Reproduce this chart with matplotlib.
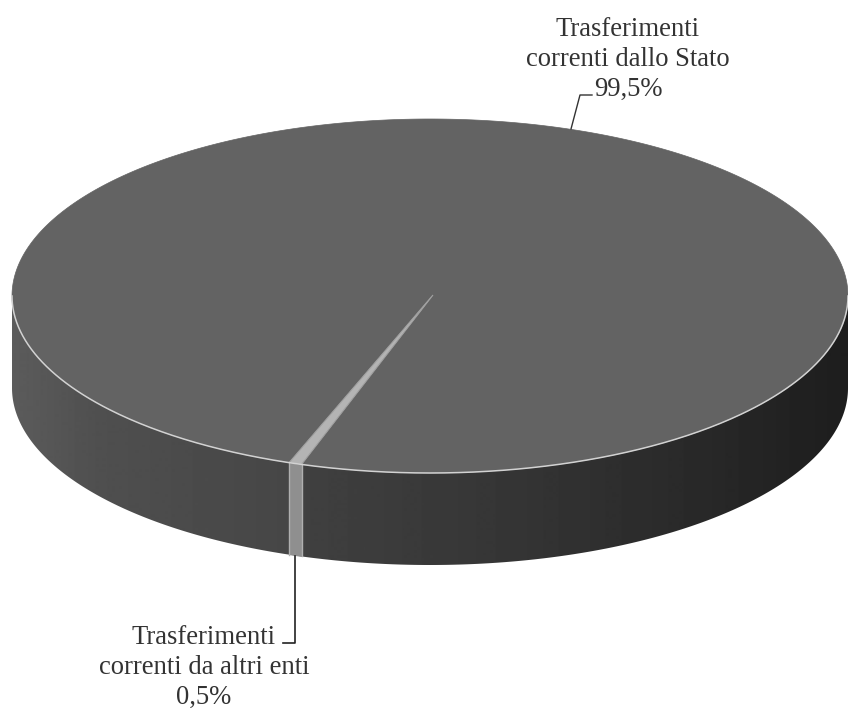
import numpy as np
import matplotlib
matplotlib.use('Agg')
import matplotlib.pyplot as plt
from matplotlib.patches import Polygon

labels = ['Trasferimenti\ncorrenti dallo Stato\n99,5%', 'Trasferimenti\ncorrenti da altri enti\n0,5%']
shares = [99.5, 0.5]

# pie geometry in image pixels
cx, cy = 430, 296
rx, ry = 418, 177
depth = 92
tip = (433, 295)
mid_small = 108.8  # angle of the small slice, clockwise on screen from the right

# side shading, left to right
shade_x = [12, 100, 290, 310, 500, 700, 848]
shade_g = [0.36, 0.31, 0.275, 0.25, 0.21, 0.16, 0.115]

fig = plt.figure(figsize=(8.48, 7.09), dpi=100)
ax = fig.add_axes([0, 0, 1, 1])


def rim(t):
    t = np.radians(t)
    return cx + rx * np.cos(t), cy + ry * np.sin(t)


half = shares[1] / 100 * 360 / 2
t1, t2 = mid_small - half, mid_small + half

# top face
t = np.linspace(t2, t1 + 360, 720)
x, y = rim(t)
ax.add_patch(Polygon(np.column_stack([np.r_[tip[0], x], np.r_[tip[1], y]]),
                     fc='#636363', ec='#636363', lw=0.5, zorder=2))
t = np.linspace(t1, t2, 10)
x, y = rim(t)
ax.add_patch(Polygon(np.column_stack([np.r_[tip[0], x], np.r_[tip[1], y]]),
                     fc='#b4b4b4', ec='#a0a0a0', lw=0.8, zorder=3))

# side wall, a horizontal gradient clipped to the wall outline
xs = np.arange(0, 849)
grad = np.interp(xs, shade_x, shade_g)[np.newaxis, :]
img = ax.imshow(grad, cmap='gray', vmin=0, vmax=1, extent=(0, 848, 0, 709),
                aspect='auto', zorder=1)
x, y = rim(np.linspace(0, 180, 361))
wall = Polygon(np.column_stack([np.r_[x, x[::-1]], np.r_[y, y[::-1] + depth]]),
               fc='none', ec='none', transform=ax.transData)
ax.add_patch(wall)
img.set_clip_path(wall)

# side of the small slice
x, y = rim(np.linspace(t1, t2, 10))
ax.fill_between(x, y, y + depth, color='#8f8f8f', lw=0, zorder=3)
for xe, ye in [rim(t1), rim(t2)]:
    ax.plot([xe, xe], [ye, ye + depth], color='#b0b0b0', lw=1, zorder=4)

# light edge on the front rim
x, y = rim(np.linspace(0, 180, 361))
ax.plot(x, y, color='#d2d2d2', lw=1.1, zorder=4)

# leader lines
ax.plot([571, 580, 592], [129, 95, 95], color='#333333', lw=1, zorder=5)
ax.plot([295, 295, 283], [556, 643, 643], color='#222222', lw=1.2, zorder=5)

font = dict(family='Liberation Serif', fontsize=19.2, color='#333333',
            ha='center', va='center', linespacing=1.27)
ax.text(628, 59.5, labels[0], **font)
ax.text(204, 667.5, labels[1], **font)

ax.set_xlim(0, 848)
ax.set_ylim(709, 0)
ax.axis('off')

fig.savefig('out.png', dpi=100)
